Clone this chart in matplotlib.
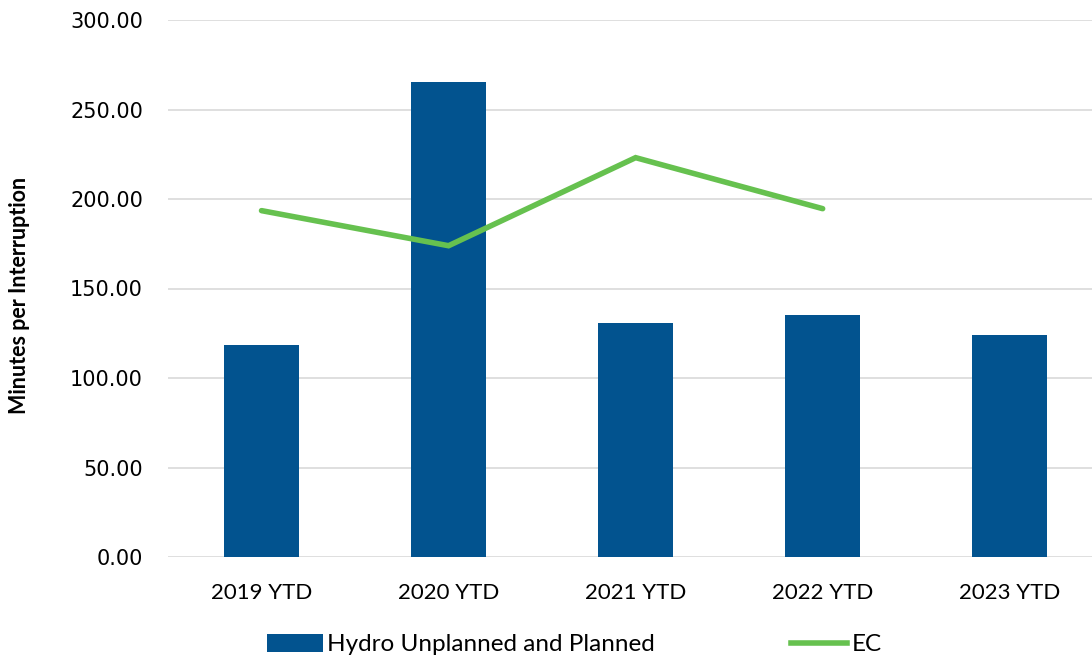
import matplotlib
matplotlib.use("Agg")
import matplotlib.pyplot as plt
from matplotlib.lines import Line2D
from matplotlib.patches import Patch

years = ["2019 YTD", "2020 YTD", "2021 YTD", "2022 YTD", "2023 YTD"]
hydro = [118.4, 265.4, 130.6, 135.0, 124.0]
ec = [193.5, 173.9, 223.1, 194.6]

bar_color = "#02538F"
line_color = "#66C14F"
grid_color = "#D9D9D9"

plt.rcParams["font.family"] = ["Lato", "DejaVu Sans"]

fig = plt.figure(figsize=(10.92, 6.62), dpi=100)
ax = fig.add_axes([168 / 1092, 105 / 662, 1 - 168 / 1092, 537 / 662])

x = list(range(len(years)))
ax.bar(x, hydro, width=0.4, color=bar_color, zorder=2)
ax.plot(x[:len(ec)], ec, color=line_color, linewidth=4, solid_capstyle="round",
        solid_joinstyle="miter", zorder=3)

ax.set_ylim(0, 300)
ax.set_xlim(-0.5, 4.44)
ax.set_yticks(range(0, 301, 50))
ax.set_yticklabels([f"{v:.2f}" for v in range(0, 301, 50)],
                   fontsize=15, family=["DejaVu Sans"])
ax.set_xticks(x)
ax.set_xticklabels(years, fontsize=16)
ax.tick_params(axis="both", length=0, colors="black")
ax.tick_params(axis="y", pad=18)
ax.tick_params(axis="x", pad=19)
ax.yaxis.grid(True, color=grid_color, linewidth=1.2, zorder=0)
for s in ax.spines.values():
    s.set_visible(False)

fig.text(0.018, 0.553, "Minutes per Interruption", rotation=90,
         fontsize=15.5, fontweight="bold", ha="center", va="center")

handles = [Patch(facecolor=bar_color, label="Hydro Unplanned and Planned"),
           Line2D([0], [0], color=line_color, linewidth=4, label="EC")]
fig.legend(handles=handles, loc="center", bbox_to_anchor=(0.526, 0.026), ncol=2,
           frameon=False, fontsize=17.5, columnspacing=5.6, handlelength=2.3,
           handleheight=0.75, handletextpad=0.2)

fig.savefig("out.png", dpi=100)
